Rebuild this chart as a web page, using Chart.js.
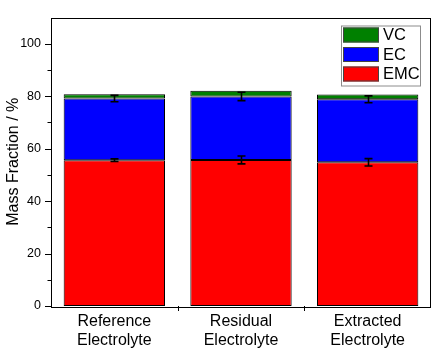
<!DOCTYPE html>
<html>
<head>
    <title>Mass Fraction</title>
    <script src="https://cdn.jsdelivr.net/npm/chart.js@4.4.0/dist/chart.umd.min.js"></script>
    <style>
        body { margin: 0; background: #fff; }
    </style>
</head>
<body>
    <canvas id="chart" width="433" height="350"></canvas>
    <script>
        // data
        var categories = [["Reference", "Electrolyte"], ["Residual", "Electrolyte"], ["Extracted", "Electrolyte"]];
        var emcValues = [55.6, 55.7, 54.8];
        var ecValues = [23.5, 24.2, 24.0];
        var vcValues = [1.6, 2.2, 1.8];
        var emcErrors = [0.5, 1.5, 1.4];
        var ecErrors = [1.2, 1.6, 1.3];
        var yTickLabels = [0, 20, 40, 60, 80, 100];

        var fontName = "'Liberation Sans', Arial, sans-serif";

        // frame, axis ticks, error bars and the inside legend
        var decorations = {
            id: 'decorations',
            afterDatasetsDraw: function(chart) {
                var ctx = chart.ctx;
                var x = chart.scales.x, y = chart.scales.y;
                ctx.save();
                ctx.strokeStyle = '#000';
                ctx.lineWidth = 1.6;
                for (var i = 0; i < categories.length; i++) {
                    var cx = Math.round(x.getPixelForValue(i)) + 0.5;
                    var lows = [emcValues[i], emcValues[i] + ecValues[i]];
                    var errs = [emcErrors[i], ecErrors[i]];
                    for (var k = 0; k < 2; k++) {
                        var y1 = y.getPixelForValue(lows[k] - errs[k]);
                        var y2 = y.getPixelForValue(lows[k] + errs[k]);
                        ctx.beginPath();
                        ctx.moveTo(cx, y1); ctx.lineTo(cx, y2);
                        ctx.moveTo(cx - 4, y1); ctx.lineTo(cx + 4, y1);
                        ctx.moveTo(cx - 4, y2); ctx.lineTo(cx + 4, y2);
                        ctx.stroke();
                    }
                }
                ctx.restore();
            },
            afterDraw: function(chart) {
                var ctx = chart.ctx;
                var a = chart.chartArea;
                var x = chart.scales.x, y = chart.scales.y;
                ctx.save();
                ctx.strokeStyle = '#000';
                ctx.lineWidth = 1;
                ctx.strokeRect(Math.round(a.left) + 0.5, Math.round(a.top) + 0.5,
                    Math.round(a.right - a.left) - 1, Math.round(a.bottom - a.top));

                // y ticks, major every 20, minor every 10
                ctx.beginPath();
                for (var v = 0; v < 110; v += 10) {
                    var py = Math.round(y.getPixelForValue(v)) + 0.5;
                    var len = (v % 20 === 0) ? 6 : 3.5;
                    ctx.moveTo(a.left, py);
                    ctx.lineTo(a.left - len, py);
                }
                // x ticks on category boundaries
                for (var i = 1; i < categories.length; i++) {
                    var px = Math.round((x.getPixelForValue(i - 1) + x.getPixelForValue(i)) / 2) + 0.5;
                    ctx.moveTo(px, a.bottom);
                    ctx.lineTo(px, a.bottom + 5);
                }
                ctx.stroke();

                // legend box
                var datasets = chart.data.datasets;
                var bx = a.right - 90, by = a.top + 8, bw = 79, bh = 60;
                ctx.fillStyle = '#fff';
                ctx.fillRect(bx, by, bw, bh);
                ctx.strokeStyle = '#8c8c8c';
                ctx.strokeRect(bx + 0.5, by + 0.5, bw, bh);
                ctx.font = '16.5px ' + fontName;
                ctx.textBaseline = 'middle';
                for (var j = 0; j < datasets.length; j++) {
                    var ds = datasets[datasets.length - 1 - j];
                    var sy = by + 2 + j * 19.5;
                    ctx.fillStyle = ds.backgroundColor;
                    ctx.fillRect(bx + 2, sy, 36, 15);
                    ctx.strokeStyle = '#444';
                    ctx.strokeRect(bx + 2.5, sy + 0.5, 35, 14);
                    ctx.fillStyle = '#000';
                    ctx.fillText(ds.label, bx + 42, sy + 8);
                }
                ctx.restore();
            }
        };

        var ctx = document.getElementById('chart').getContext('2d');
        var chart = new Chart(ctx, {
            type: 'bar',
            data: {
                labels: categories,
                datasets: [{
                    label: 'EMC',
                    data: emcValues,
                    backgroundColor: '#ff0000'
                }, {
                    label: 'EC',
                    data: ecValues,
                    backgroundColor: '#0000ff'
                }, {
                    label: 'VC',
                    data: vcValues,
                    backgroundColor: '#008000'
                }]
            },
            options: {
                responsive: false,
                animation: false,
                layout: { padding: { top: 2, right: 2, left: 0, bottom: 0 } },
                datasets: {
                    bar: {
                        categoryPercentage: 0.8,
                        barPercentage: 1.0,
                        borderWidth: 1,
                        borderColor: '#000',
                        borderSkipped: false
                    }
                },
                plugins: {
                    legend: { display: false },
                    tooltip: { enabled: false }
                },
                scales: {
                    x: {
                        stacked: true,
                        grid: { display: false, drawTicks: false },
                        border: { display: false },
                        ticks: {
                            color: '#000',
                            padding: 6,
                            font: { family: fontName, size: 16 }
                        },
                        afterFit: function(scale) { scale.height = 44; }
                    },
                    y: {
                        stacked: true,
                        min: 0,
                        max: 110,
                        grid: { display: false, drawTicks: false },
                        border: { display: false },
                        ticks: {
                            stepSize: 10,
                            color: '#000',
                            padding: 10,
                            font: { family: fontName, size: 12.5 },
                            callback: function(value) {
                                return yTickLabels.indexOf(value) >= 0 ? value : '';
                            }
                        },
                        title: {
                            display: true,
                            text: 'Mass Fraction / %',
                            color: '#000',
                            font: { family: fontName, size: 16 }
                        },
                        afterFit: function(scale) { scale.width = 51; }
                    }
                }
            },
            plugins: [decorations]
        });
    </script>
</body>
</html>
